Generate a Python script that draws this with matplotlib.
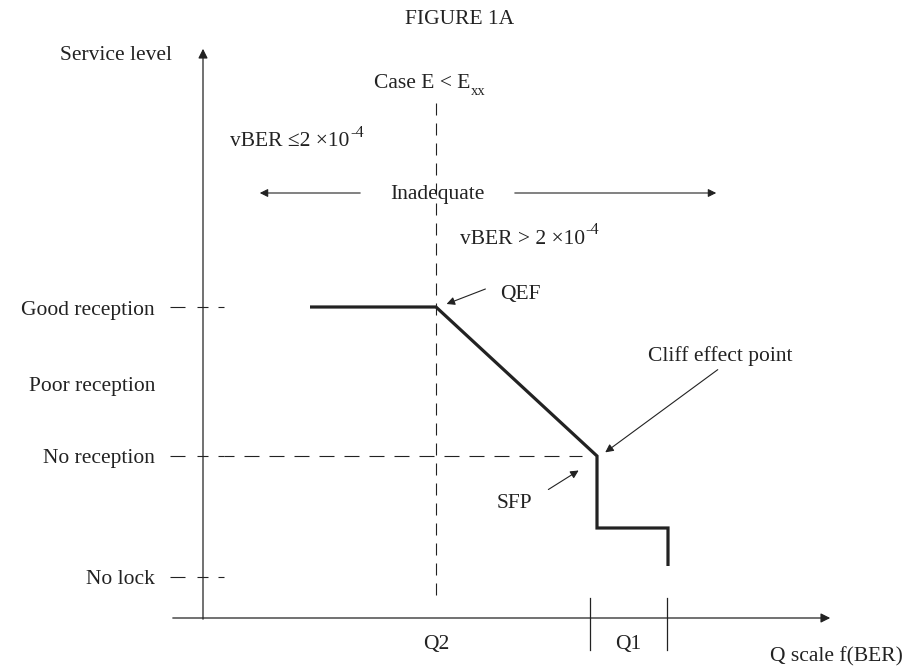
import matplotlib
matplotlib.use('Agg')
import matplotlib.pyplot as plt

plt.rcParams['font.family'] = ['Liberation Serif', 'DejaVu Serif']
plt.rcParams['lines.scale_dashes'] = False

# schematic coordinates (x right, y down, as in the drawing)
level_names = ['Good reception', 'Poor reception', 'No reception', 'No lock']
level_y = [307, 383, 456, 577]
level_marked = [True, False, True, True]

curve_x = [310, 436, 597, 597, 668, 668]
curve_y = [307, 307, 456, 528, 528, 566]

qef_x = 436
q_bounds = [590, 667]
q_names = ['Q2', 'Q1']
q_label_x = [436, 628]

col = '#222222'
fs = 15.5
PT = 0.72  # px -> pt at 100 dpi
dy = 3     # nudge text down so the glyphs, not the bbox, sit on the line

fig = plt.figure(figsize=(9.06, 6.69), dpi=100)
ax = fig.add_axes([0, 0, 1, 1])
ax.set_xlim(0, 906)
ax.set_ylim(669, 0)
ax.axis('off')


def label(x, y, s, ha='left'):
    return ax.text(x, y + dy, s, ha=ha, va='center', fontsize=fs, color=col)


# axes with arrows
ax.annotate('', xy=(203, 46), xytext=(203, 622),
            arrowprops=dict(arrowstyle='-|>', color=col, lw=0.9, mutation_scale=14))
ax.annotate('', xy=(833, 618), xytext=(170, 618),
            arrowprops=dict(arrowstyle='-|>', color=col, lw=0.9, mutation_scale=14))

# levels
for name, y, mk in zip(level_names, level_y, level_marked):
    label(155, y, name, ha='right')
    if mk:
        ax.plot([170, 224], [y, y], color=col, lw=0.8,
                linestyle=(0, (15 * PT, 12 * PT, 11 * PT, 10 * PT, 6 * PT, 20 * PT)))

# no reception dashed guide
ax.plot([224, 582], [level_y[2], level_y[2]], color=col, lw=0.8,
        linestyle=(5 * PT, (15 * PT, 10 * PT)))
# QEF vertical dashed line
ax.plot([qef_x, qef_x], [103, 600], color=col, lw=0.8,
        linestyle=(0, (12 * PT, 8 * PT)))

# main curve
ax.plot(curve_x, curve_y, color=col, lw=2.3, solid_joinstyle='miter', solid_capstyle='butt')

# Q scale ticks
for xb in q_bounds:
    ax.plot([xb, xb], [598, 650], color=col, lw=0.9)
for nm, xl in zip(q_names, q_label_x):
    label(xl, 641, nm, ha='center')
label(903, 654, 'Q scale f(BER)', ha='right')


def sup_text(x, y, base, sup, sub=False):
    t = label(x, y, base)
    if sub:
        ax.annotate(sup, xy=(1, 0.1), xycoords=t, xytext=(0.5, 0), textcoords='offset points',
                    ha='left', va='center', fontsize=fs * 0.68, color=col)
    else:
        ax.annotate(sup, xy=(1, 0.95), xycoords=t, xytext=(0.5, 0), textcoords='offset points',
                    ha='left', va='center', fontsize=fs * 0.75, color=col)
    return t


# texts
label(460, 17, 'FIGURE 1A', ha='center')
label(116, 53, 'Service level', ha='center')
sup_text(374, 81, 'Case E < E', 'xx', sub=True)
sup_text(230, 139, 'vBER \u22642 \u00d710', '-4')
sup_text(460, 236, 'vBER > 2 \u00d710', '-4')
label(437, 191, 'Inadequate', ha='center')
ax.annotate('', xy=(257, 193), xytext=(363, 193),
            arrowprops=dict(arrowstyle='-|>', color=col, lw=0.8, mutation_scale=12))
ax.annotate('', xy=(719, 193), xytext=(512, 193),
            arrowprops=dict(arrowstyle='-|>', color=col, lw=0.8, mutation_scale=12))

# callouts
label(500, 291, 'QEF')
ax.annotate('', xy=(444, 305), xytext=(488, 288),
            arrowprops=dict(arrowstyle='-|>', color=col, lw=0.8, mutation_scale=12))
label(648, 353, 'Cliff effect point')
ax.annotate('', xy=(603, 454), xytext=(720, 368),
            arrowprops=dict(arrowstyle='-|>', color=col, lw=0.8, mutation_scale=12))
label(497, 501, 'SFP')
ax.annotate('', xy=(581, 469), xytext=(546, 491),
            arrowprops=dict(arrowstyle='-|>', color=col, lw=0.8, mutation_scale=12))

fig.savefig('out.png', dpi=100)
